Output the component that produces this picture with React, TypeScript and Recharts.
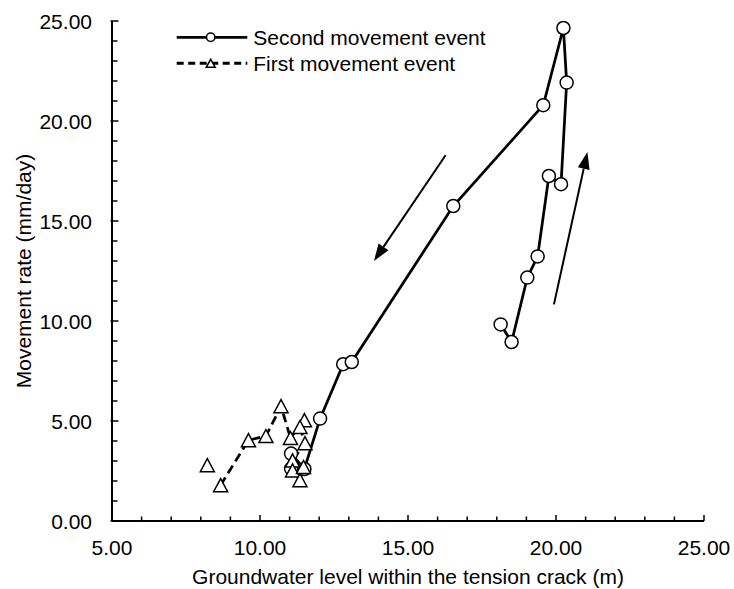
import React from 'react';
import { LineChart, Line, XAxis, YAxis, ReferenceLine } from 'recharts';

if (typeof document !== 'undefined') {
  document.body.style.margin = '0';
}

// Second movement event (circles, solid line)
const secondGW = [11.05, 11.05, 11.5, 12.03, 12.81, 13.1, 16.53, 19.57, 20.25, 20.36, 20.17, 19.76, 19.38, 19.03, 18.5, 18.13];
const secondRate = [2.62, 3.37, 2.6, 5.12, 7.84, 7.95, 15.75, 20.79, 24.65, 21.92, 16.84, 17.25, 13.23, 12.17, 8.95, 9.83];

// First movement event (triangles, dashed line); null = gap in the line
const firstGW = [8.22, 8.45, 8.67, 9.61, 10.2, 10.71, 11.03, 11.5, 11.35, 11.52, 11.1, 11.1, 11.35, 11.47];
const firstRate: (number | null)[] = [2.79, null, 1.79, 4.04, 4.25, 5.74, 4.15, 5.04, 4.7, 3.89, 3.03, 2.53, 2.04, 2.7];

// Annotation arrows (data coordinates)
const arrowStartGW = [16.27, 19.93];
const arrowStartRate = [18.29, 10.83];
const arrowEndGW = [13.85, 21.06];
const arrowEndRate = [13.0, 18.45];

const xTicks = [5, 6, 7, 8, 9, 10, 11, 12, 13, 14, 15, 16, 17, 18, 19, 20, 21, 22, 23, 24, 25];
const yTicks = [0, 1, 2, 3, 4, 5, 6, 7, 8, 9, 10, 11, 12, 13, 14, 15, 16, 17, 18, 19, 20, 21, 22, 23, 24, 25];

const seriesNames = ['Second movement event', 'First movement event'];
const xTitle = 'Groundwater level within the tension crack (m)';
const yTitle = 'Movement rate (mm/day)';

const FONT = "Arial, 'Liberation Sans', Helvetica, sans-serif";
const FS = 21;

const secondData = secondGW.map((x, i) => ({ x, y: secondRate[i] }));
const firstData = firstGW.map((x, i) => ({ x, y: firstRate[i] }));
const arrows = arrowStartGW.map((x, i) => ({
  x1: x,
  y1: arrowStartRate[i],
  x2: arrowEndGW[i],
  y2: arrowEndRate[i],
}));

const fmt = (v: number) => v.toFixed(2);

const XTick = (p: any) => {
  const { x, y, payload } = p;
  const v = payload.value;
  const major = v % 5 === 0;
  return (
    <g>
      <line x1={x} x2={x} y1={y} y2={y - (major ? 6 : 4.5)} stroke="#000" strokeWidth={1.5} />
      {major && (
        <text x={x} y={y + 34} textAnchor="middle" fontSize={FS} fontFamily={FONT} fill="#000">
          {fmt(v)}
        </text>
      )}
    </g>
  );
};

const YTick = (p: any) => {
  const { x, y, payload } = p;
  const v = payload.value;
  const major = v % 5 === 0;
  return (
    <g>
      <line x1={major ? x - 1.5 : x} x2={x + (major ? 6.5 : 5.5)} y1={y} y2={y} stroke="#000" strokeWidth={1.5} />
      {major && (
        <text x={x - 20} y={y} dy="0.36em" textAnchor="end" fontSize={FS} fontFamily={FONT} fill="#000">
          {fmt(v)}
        </text>
      )}
    </g>
  );
};

const renderCircle = (p: any) => {
  if (p.cx == null || p.cy == null) return <g key={`c${p.index}`} />;
  return (
    <circle key={`c${p.index}`} cx={p.cx} cy={p.cy} r={6.5} fill="#fff" stroke="#000" strokeWidth={1.5} />
  );
};

const triPath = (cx: number, cy: number, h: number, w: number) =>
  `M${cx},${cy - h} L${cx + w},${cy + h} L${cx - w},${cy + h} Z`;

const renderTriangle = (p: any) => {
  if (p.cx == null || p.cy == null || p.value == null) return <g key={`t${p.index}`} />;
  return (
    <path key={`t${p.index}`} d={triPath(p.cx, p.cy, 6.5, 7)} fill="#fff" stroke="#000" strokeWidth={1.5} />
  );
};

const ArrowShape = (p: any) => {
  const { x1, y1, x2, y2 } = p;
  const a = Math.atan2(y2 - y1, x2 - x1);
  const L = 17;
  const W = 6;
  const bx = x2 - L * Math.cos(a);
  const by = y2 - L * Math.sin(a);
  const px = -Math.sin(a) * W;
  const py = Math.cos(a) * W;
  return (
    <g>
      <line x1={x1} y1={y1} x2={bx} y2={by} stroke="#000" strokeWidth={2} />
      <polygon points={`${x2},${y2} ${bx + px},${by + py} ${bx - px},${by - py}`} fill="#000" />
    </g>
  );
};

const LegendBox = () => (
  <svg width={330} height={60} style={{ display: 'block', position: 'absolute', left: 168, top: 18 }}>
    <g>
      <line x1={8.7} x2={79.3} y1={19.3} y2={19.3} stroke="#000" strokeWidth={2.75} />
      <circle cx={42.7} cy={19.3} r={4.2} fill="#fff" stroke="#000" strokeWidth={1.5} />
      <text x={85.3} y={19.3} dy="0.36em" fontSize={FS} fontFamily={FONT} fill="#000">
        {seriesNames[0]}
      </text>
    </g>
    <g>
      <line x1={8.7} x2={79.3} y1={45.3} y2={45.3} stroke="#000" strokeWidth={3} strokeDasharray="7 4.5" />
      <path d={triPath(42.7, 45.3, 4, 4.5)} fill="#fff" stroke="#000" strokeWidth={1.5} />
      <text x={85.3} y={45.3} dy="0.36em" fontSize={FS} fontFamily={FONT} fill="#000">
        {seriesNames[1]}
      </text>
    </g>
  </svg>
);

const XLabel = (p: any) => {
  const vb = p.viewBox;
  return (
    <text x={vb.x + vb.width / 2} y={vb.y + 63} textAnchor="middle" fontSize={FS} fontFamily={FONT} fill="#000">
      {xTitle}
    </text>
  );
};

const YLabel = (p: any) => {
  const vb = p.viewBox;
  const cx = vb.x + 31;
  const cy = vb.y + vb.height / 2;
  return (
    <text
      x={cx}
      y={cy}
      transform={`rotate(-90 ${cx} ${cy})`}
      textAnchor="middle"
      fontSize={FS}
      fontFamily={FONT}
      fill="#000"
    >
      {yTitle}
    </text>
  );
};

export default function App() {
  return (
    <div
      style={{
        width: 734,
        height: 589,
        fontFamily: FONT,
        background: '#fff',
        position: 'relative',
      }}
    >
      <LineChart width={734} height={589} margin={{ top: 21, right: 30, bottom: 0, left: 0 }}>
        <XAxis
          type="number"
          dataKey="x"
          domain={[5, 25]}
          ticks={xTicks}
          interval={0}
          allowDataOverflow
          height={68}
          tickSize={0}
          tickMargin={0}
          tickLine={false}
          tick={<XTick />}
          axisLine={{ stroke: '#000', strokeWidth: 2 }}
          label={{ content: <XLabel /> }}
        />
        <YAxis
          type="number"
          dataKey="y"
          domain={[0, 25]}
          ticks={yTicks}
          interval={0}
          allowDataOverflow
          width={112}
          tickSize={0}
          tickMargin={0}
          tickLine={false}
          tick={<YTick />}
          axisLine={{ stroke: '#000', strokeWidth: 2 }}
          label={{ content: <YLabel /> }}
        />
        {arrows.map((a, i) => (
          <ReferenceLine
            key={`arr${i}`}
            segment={[
              { x: a.x1, y: a.y1 },
              { x: a.x2, y: a.y2 },
            ]}
            shape={<ArrowShape />}
            ifOverflow="visible"
          />
        ))}
        <Line
          data={secondData}
          dataKey="y"
          name={seriesNames[0]}
          type="linear"
          stroke="#000"
          strokeWidth={2.75}
          dot={renderCircle}
          activeDot={false}
          isAnimationActive={false}
          connectNulls={false}
        />
        <Line
          data={firstData}
          dataKey="y"
          name={seriesNames[1]}
          type="linear"
          stroke="#000"
          strokeWidth={2.75}
          strokeDasharray="9 5"
          dot={renderTriangle}
          activeDot={false}
          isAnimationActive={false}
          connectNulls={false}
        />
      </LineChart>
      <LegendBox />
    </div>
  );
}
